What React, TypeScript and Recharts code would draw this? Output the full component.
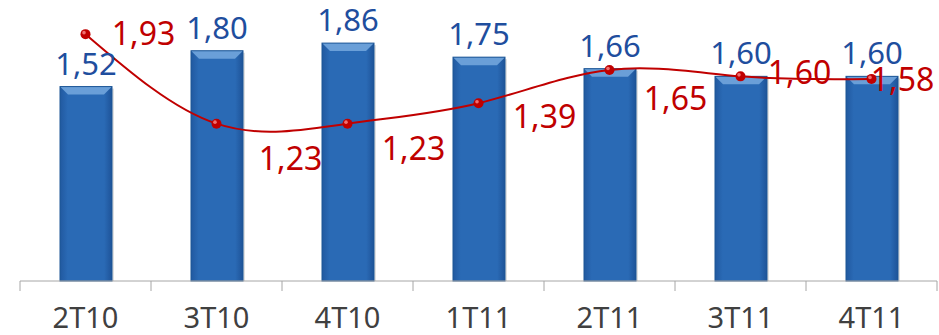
import { ComposedChart, Bar, Line, XAxis, YAxis, LabelList } from "recharts";

const quarters = ["2T10", "3T10", "4T10", "1T11", "2T11", "3T11", "4T11"];
const barValues = [1.52, 1.8, 1.86, 1.75, 1.66, 1.6, 1.6];
const lineValues = [1.93, 1.23, 1.23, 1.39, 1.65, 1.6, 1.58];

// where each red label sits relative to its point
const lineLabelOffsets = [
  [58, -2],
  [74, 34],
  [66, 24],
  [66, 12],
  [66, 28],
  [59, -5],
  [31, 0],
];

const data = quarters.map((q, i) => ({
  q,
  bar: barValues[i],
  line: lineValues[i],
}));

const fmt = (v: number) => v.toFixed(2).replace(".", ",");

const BevelBar = (props: any) => {
  const { x, y, width, height } = props;
  if (!height || height <= 0) return null;
  const b = 8;
  return (
    <g>
      <rect x={x + 2} y={y + 2} width={width} height={height - 2} fill="#000" opacity={0.12} />
      <rect x={x} y={y} width={width} height={height} fill="url(#barFill)" />
      <polygon
        points={`${x},${y} ${x + width},${y} ${x + width - b},${y + b} ${x + b},${y + b}`}
        fill="#6a9fd8"
      />
      <rect x={x} y={y} width={width} height={height} fill="none" stroke="#1d5696" strokeWidth={1} />
    </g>
  );
};

const QuarterTick = (props: any) => {
  const { x, y, payload, index } = props;
  const half = payload && payload.offset ? payload.offset : 65.5;
  return (
    <g>
      <line x1={x - half} y1={y - 8} x2={x - half} y2={y + 2} stroke="#a6a6a6" />
      {index === quarters.length - 1 && (
        <line x1={x + half} y1={y - 8} x2={x + half} y2={y + 2} stroke="#a6a6a6" />
      )}
      <text x={x} y={y + 39} textAnchor="middle" fill="#404040" fontSize={29}>
        {payload.value}
      </text>
    </g>
  );
};

const RedDot = (props: any) => {
  const { cx, cy } = props;
  return (
    <g>
      <circle cx={cx} cy={cy} r={5} fill="#c00000" />
      <circle cx={cx - 1.5} cy={cy - 1.5} r={1.8} fill="#f07070" />
    </g>
  );
};

const RedLabel = (props: any) => {
  const { x, y, value, index } = props;
  const [dx, dy] = lineLabelOffsets[index] || [60, 0];
  return (
    <text x={x + dx} y={y + dy} textAnchor="middle" dominantBaseline="central" fill="#c00000" fontSize={32}>
      {fmt(value)}
    </text>
  );
};

const BlueLabel = (props: any) => {
  const { x, y, width, value } = props;
  return (
    <text x={x + width / 2} y={y - 12} textAnchor="middle" fill="#1f4e9e" fontSize={31}>
      {fmt(value)}
    </text>
  );
};

export default function App() {
  return (
    <div style={{ position: "absolute", left: 0, top: 0, fontFamily: "'Noto Sans', sans-serif" }}>
      <ComposedChart
        width={939}
        height={335}
        data={data}
        margin={{ top: 6, right: 2, left: 20, bottom: 0 }}
      >
        <defs>
          <linearGradient id="barFill" x1="0" y1="0" x2="1" y2="0">
            <stop offset="0%" stopColor="#2159a0" />
            <stop offset="15%" stopColor="#2a6ab5" />
            <stop offset="85%" stopColor="#2a6ab5" />
            <stop offset="100%" stopColor="#1e5398" />
          </linearGradient>
        </defs>
        <XAxis
          dataKey="q"
          height={54}
          tickLine={false}
          axisLine={{ stroke: "#a6a6a6" }}
          tick={<QuarterTick />}
          interval={0}
        />
        <YAxis hide domain={[0, 2.15]} />
        <Bar dataKey="bar" barSize={52} shape={<BevelBar />} isAnimationActive={false}>
          <LabelList dataKey="bar" content={<BlueLabel />} />
        </Bar>
        <Line
          dataKey="line"
          type="natural"
          stroke="#c00000"
          strokeWidth={2}
          dot={<RedDot />}
          activeDot={false}
          isAnimationActive={false}
        >
          <LabelList dataKey="line" content={<RedLabel />} />
        </Line>
      </ComposedChart>
    </div>
  );
}
